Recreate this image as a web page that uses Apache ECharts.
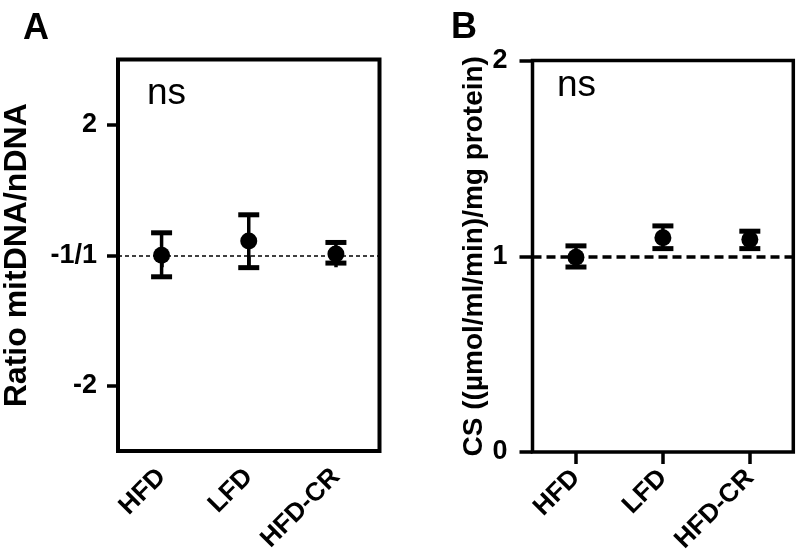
<!DOCTYPE html>
<html>
<head>
<meta charset="utf-8">
<script src="https://cdn.jsdelivr.net/npm/echarts@6/dist/echarts.min.js"></script>
<style>
  html, body { margin: 0; padding: 0; background: #fff; }
  #chart { width: 796px; height: 560px; }
</style>
</head>
<body>
<div id="chart"></div>
<script>
// groups on the x axis
const groups = ['HFD', 'LFD', 'HFD-CR'];

// panel A: log2 ratio mitDNA/nDNA (mean, lower / upper error bar)
const ratioMean = [0.0, 0.11, 0.01];
const ratioLow = [-0.165, -0.095, -0.06];
const ratioHigh = [0.172, 0.31, 0.098];
const ratioTicks = [-1, 0, 1];
const ratioTickLabels = ['-2', '-1/1', '2'];

// panel B: citrate synthase activity
const csMean = [0.995, 1.095, 1.085];
const csLow = [0.945, 1.039, 1.039];
const csHigh = [1.053, 1.155, 1.128];

const font = 'Liberation Sans, Arial, Helvetica, sans-serif';

function errorBars(low, high) {
    return low.map((l, i) => [i, l, high[i]]);
}

function renderErrorBar(params, api) {
    const lo = api.coord([api.value(0), api.value(1)]);
    const hi = api.coord([api.value(0), api.value(2)]);
    const w = 10.5;
    const stem = { stroke: '#000', lineWidth: 3.5 };
    const cap = { stroke: '#000', lineWidth: 5 };
    return {
        type: 'group',
        children: [
            { type: 'line', shape: { x1: lo[0], y1: lo[1], x2: hi[0], y2: hi[1] }, style: stem },
            { type: 'line', shape: { x1: lo[0] - w, y1: lo[1], x2: lo[0] + w, y2: lo[1] }, style: cap },
            { type: 'line', shape: { x1: hi[0] - w, y1: hi[1], x2: hi[0] + w, y2: hi[1] }, style: cap }
        ]
    };
}

function xAxis(gridIndex) {
    return {
        type: 'category',
        gridIndex: gridIndex,
        data: groups,
        boundaryGap: true,
        axisLine: { show: false },
        axisTick: { show: true, alignWithLabel: true, length: 12, lineStyle: { color: '#000', width: 3.5 } },
        axisLabel: { rotate: 45, margin: 22, color: '#000', fontSize: 26, fontWeight: 'bold', fontFamily: font },
        splitLine: { show: false }
    };
}

const myChart = echarts.init(document.getElementById('chart'));

const option = {
    animation: false,
    backgroundColor: '#fff',
    title: [
        { text: 'A', left: 18, top: 6, textStyle: { fontSize: 36, fontWeight: 'bold', color: '#000', fontFamily: font } },
        { text: 'B', left: 446, top: 5, textStyle: { fontSize: 36, fontWeight: 'bold', color: '#000', fontFamily: font } },
        { text: 'ns', left: 142, top: 70, textStyle: { fontSize: 37, fontWeight: 'normal', color: '#000', fontFamily: font } },
        { text: 'ns', left: 552, top: 62, textStyle: { fontSize: 37, fontWeight: 'normal', color: '#000', fontFamily: font } }
    ],
    grid: [
        { left: 118, right: 416.5, top: 59.5, bottom: 109, show: true, borderWidth: 4, borderColor: '#000', backgroundColor: 'transparent' },
        { left: 532.5, right: 2.7, top: 60.5, bottom: 108, show: true, borderWidth: 3.5, borderColor: '#000', backgroundColor: 'transparent' }
    ],
    xAxis: [xAxis(0), xAxis(1)],
    yAxis: [
        {
            type: 'value',
            gridIndex: 0,
            min: -1.5,
            max: 1.5,
            name: 'Ratio mitDNA/nDNA',
            nameLocation: 'middle',
            nameGap: 85,
            nameTextStyle: { fontSize: 32, fontWeight: 'bold', color: '#000', fontFamily: font },
            axisLine: { show: false },
            axisTick: { show: true, length: 11, customValues: ratioTicks, lineStyle: { color: '#000', width: 3.5 } },
            axisLabel: {
                customValues: ratioTicks,
                margin: 21,
                color: '#000',
                fontSize: 27,
                fontWeight: 'bold',
                fontFamily: font,
                formatter: v => ratioTickLabels[ratioTicks.indexOf(v)]
            },
            splitLine: { show: false }
        },
        {
            type: 'value',
            gridIndex: 1,
            min: 0,
            max: 2,
            interval: 1,
            name: 'CS ((µmol/ml/min)/mg protein)',
            nameLocation: 'middle',
            nameGap: 34,
            nameTextStyle: { fontSize: 28, fontWeight: 'bold', color: '#000', fontFamily: font },
            axisLine: { show: false },
            axisTick: { show: true, length: 13, lineStyle: { color: '#000', width: 3.5 } },
            axisLabel: { margin: 25, color: '#000', fontSize: 27, fontWeight: 'bold', fontFamily: font },
            splitLine: { show: false }
        }
    ],
    series: [
        {
            type: 'custom',
            xAxisIndex: 0,
            yAxisIndex: 0,
            renderItem: renderErrorBar,
            data: errorBars(ratioLow, ratioHigh),
            z: 3
        },
        {
            type: 'scatter',
            xAxisIndex: 0,
            yAxisIndex: 0,
            symbolSize: 17,
            itemStyle: { color: '#000', opacity: 1 },
            data: ratioMean,
            z: 4,
            markLine: {
                silent: true,
                symbol: 'none',
                label: { show: false },
                lineStyle: { color: '#000', width: 1.5, type: [4, 3], opacity: 1 },
                data: [{ yAxis: 0 }]
            }
        },
        {
            type: 'custom',
            xAxisIndex: 1,
            yAxisIndex: 1,
            renderItem: renderErrorBar,
            data: errorBars(csLow, csHigh),
            z: 3
        },
        {
            type: 'scatter',
            xAxisIndex: 1,
            yAxisIndex: 1,
            symbolSize: 17,
            itemStyle: { color: '#000', opacity: 1 },
            data: csMean,
            z: 4,
            markLine: {
                silent: true,
                symbol: 'none',
                label: { show: false },
                lineStyle: { color: '#000', width: 3.5, type: [9, 5], opacity: 1 },
                data: [{ yAxis: 1 }]
            }
        }
    ]
};

myChart.setOption(option);
</script>
</body>
</html>
